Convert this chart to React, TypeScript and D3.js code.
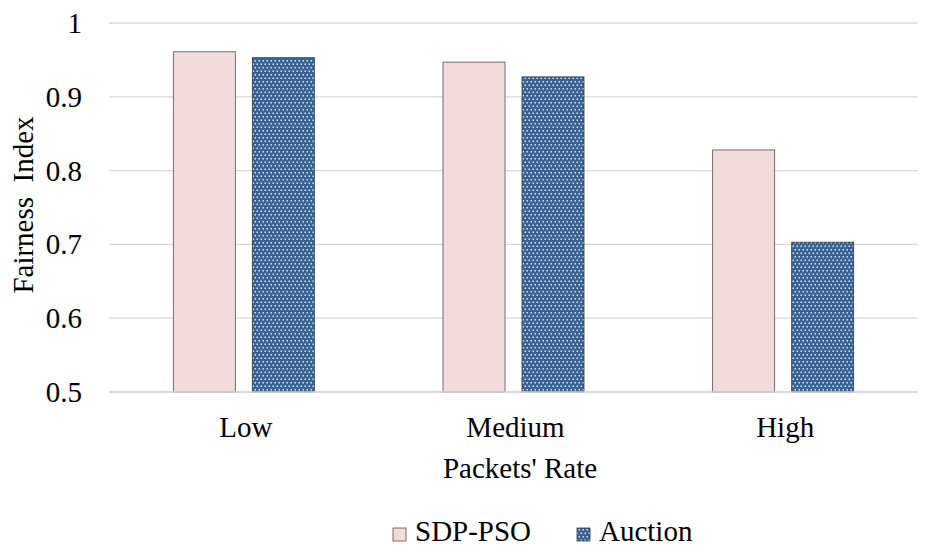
import React from "react";
import * as d3 from "d3";

const categories = ["Low", "Medium", "High"];
const seriesNames = ["SDP-PSO", "Auction"];
const sdpPso = [0.961, 0.947, 0.828];
const auction = [0.953, 0.927, 0.703];
const yTicks = [0.5, 0.6, 0.7, 0.8, 0.9, 1];

const W = 927, H = 546;
const left = 109, right = 918, top = 23, bottom = 392;
const FONT = "Liberation Serif";
const FS = 29;

export default function App() {
  const x = d3.scaleBand<string>().domain(categories).range([left, right]).paddingInner(0).paddingOuter(0);
  const y = d3.scaleLinear().domain([0.5, 1]).range([bottom, top]);
  const barW = 62, gap = 17;
  const series = [sdpPso, auction];
  const fills = ["#F2DCDB", "url(#dots)"];
  const strokes = ["#5E4B4B", "#2B3A4E"];
  return (
    <svg width={W} height={H} style={{ position: "absolute", left: 0, top: 0, background: "#fff" }}>
      <defs>
        <pattern id="dots" width="4" height="7" patternUnits="userSpaceOnUse">
          <rect width="4" height="7" fill="#3B6495" />
          <rect x="0.5" y="0.5" width="1.5" height="1.5" fill="#CFE0EF" />
          <rect x="2.5" y="4" width="1.5" height="1.5" fill="#CFE0EF" />
        </pattern>
      </defs>
      {yTicks.map((t) => (
        <g key={t}>
          <line x1={left} x2={right} y1={y(t)} y2={y(t)} stroke="#D9D9D9" strokeWidth={1.3} />
          <text x={82} y={y(t) + 10} textAnchor="end" fontFamily={FONT} fontSize={FS} fill="#000">
            {d3.format("")(t)}
          </text>
        </g>
      ))}
      {categories.map((c, i) => {
        const cx = x(c)! + x.bandwidth() / 2;
        return (
          <g key={c}>
            {series.map((s, j) => {
              const bx = j === 0 ? cx - gap / 2 - barW : cx + gap / 2;
              return (
                <rect key={j} x={bx} y={y(s[i])} width={barW} height={bottom - y(s[i])}
                  fill={fills[j]} stroke={strokes[j]} strokeWidth={0.8} />
              );
            })}
            <text x={cx + 2} y={437} textAnchor="middle" fontFamily={FONT} fontSize={FS} fill="#000">{c}</text>
          </g>
        );
      })}
      <line x1={left} x2={right} y1={bottom} y2={bottom} stroke="#D9D9D9" strokeWidth={1.3} />
      <text x={520} y={478} textAnchor="middle" fontFamily={FONT} fontSize={FS} fill="#000">Packets' Rate</text>
      <text transform={`translate(33,205) rotate(-90)`} textAnchor="middle" fontFamily={FONT} fontSize={FS} fill="#000" style={{ whiteSpace: "pre" }}>{"Fairness  Index"}</text>
      {seriesNames.map((n, j) => {
        const lx = j === 0 ? 393 : 577;
        return (
          <g key={n}>
            <rect x={lx} y={528} width={13} height={13} fill={fills[j]} stroke={strokes[j]} strokeWidth={0.8} />
            <text x={lx + 22} y={541} fontFamily={FONT} fontSize={FS} fill="#000">{n}</text>
          </g>
        );
      })}
    </svg>
  );
}
